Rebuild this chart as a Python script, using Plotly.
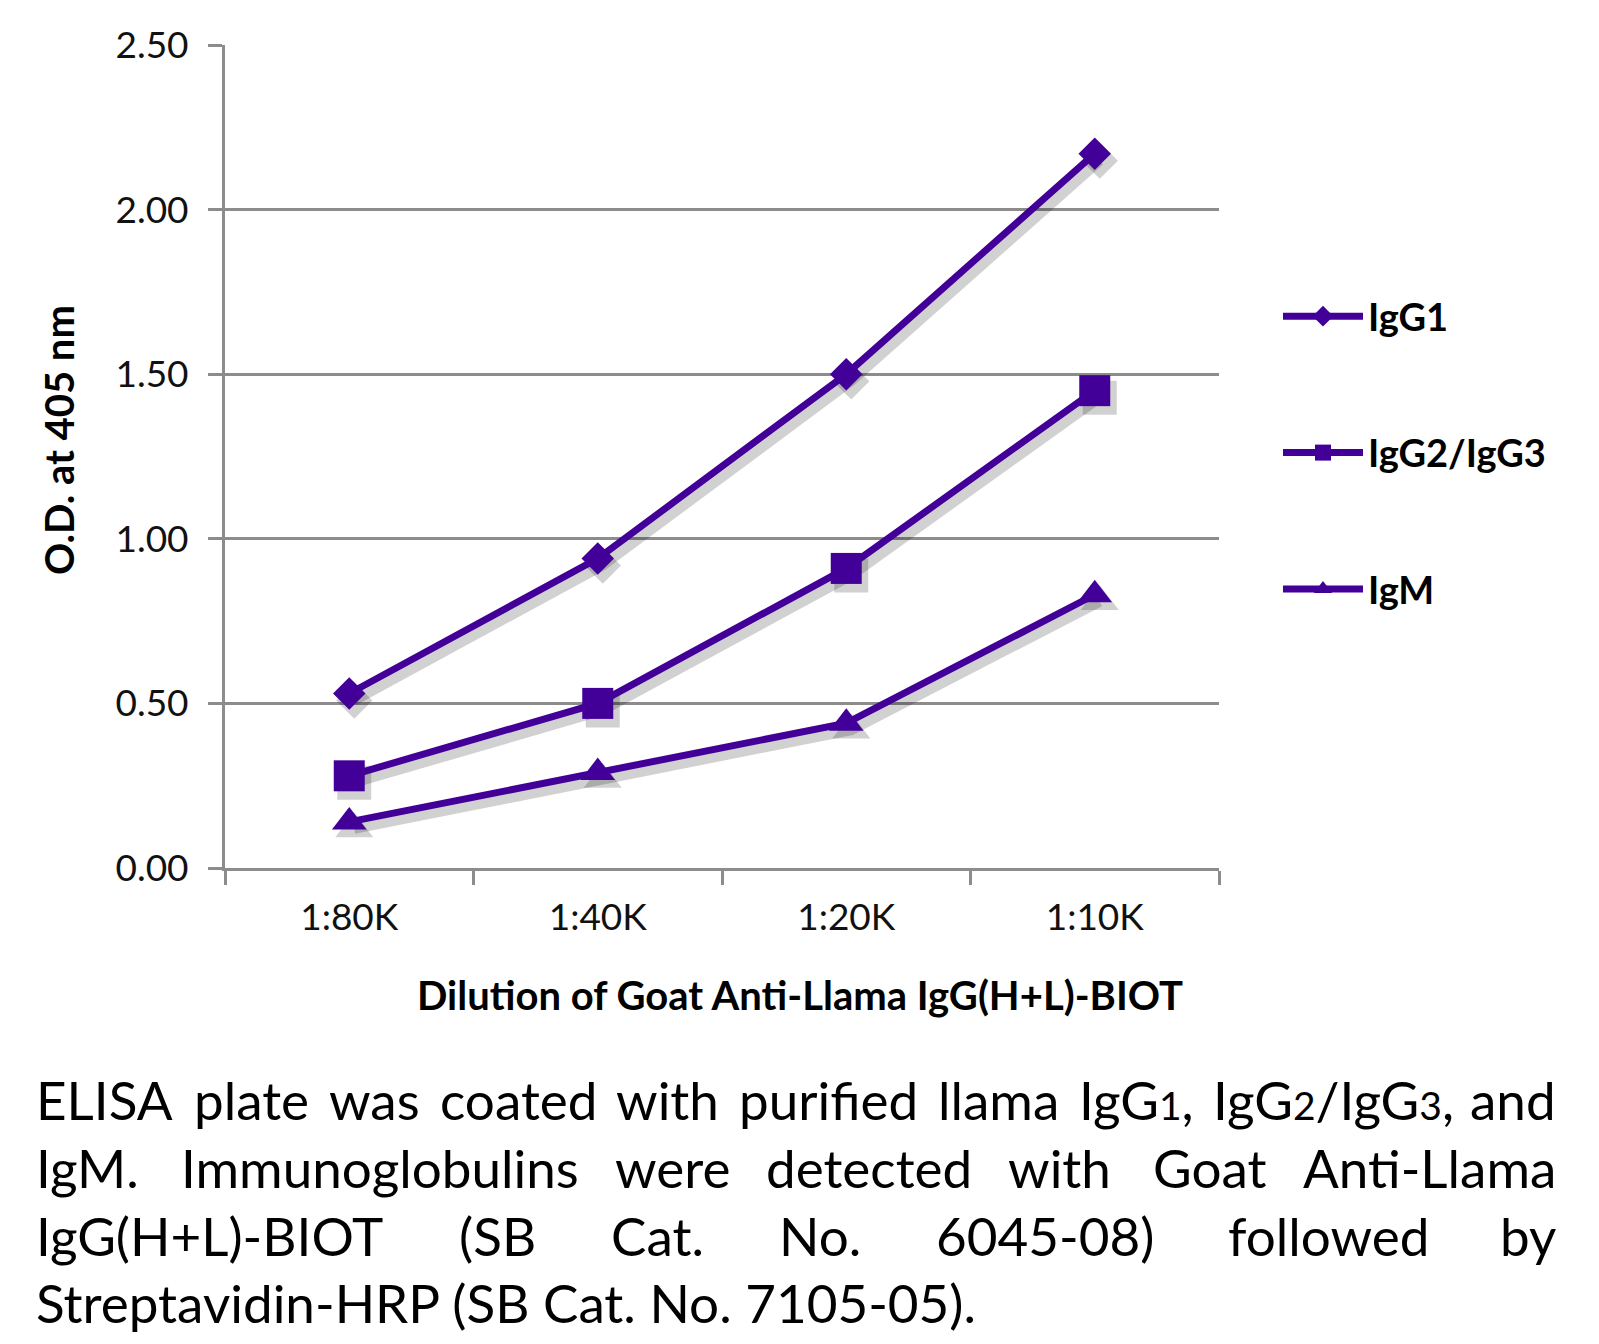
import plotly.graph_objects as go

# ---------------- data ----------------
categories = ["1:80K", "1:40K", "1:20K", "1:10K"]
igg1 = [0.53, 0.94, 1.50, 2.17]
igg23 = [0.28, 0.50, 0.91, 1.45]
igm = [0.14, 0.29, 0.44, 0.83]
series_names = ["IgG1", "IgG2/IgG3", "IgM"]
y_ticks = [0.0, 0.5, 1.0, 1.5, 2.0, 2.5]

# ---------------- geometry (page pixels) ----------------
PAGE_W, PAGE_H = 1599, 1344
OFF = 8                      # default body margin of the html page
W, H = PAGE_W - 2 * OFF, PAGE_H - 2 * OFF
PL, PR, PT, PB = 225, 1219, 45, 868   # plot area in page pixels
PURPLE = "#430098"
GRID = "#8c8c8c"
FONT = "Lato"


def fx(px):
    return (px - PL) / (PR - PL)


def fy(py):
    return (PB - py) / (PB - PT)


symbols = ["diamond", "square", "triangle-up"]
sizes = [25, 31, 30]
series = [igg1, igg23, igm]

fig = go.Figure()

# base subplot anchor (keeps the visible axes drawn)
fig.add_trace(go.Scatter(x=categories, y=[None] * len(categories),
                         mode="lines", showlegend=False, hoverinfo="skip"))

# soft shadows on a slightly shifted hidden axis pair
shift_x = 5 / ((PR - PL) / 4)
shift_y = 7 / ((PB - PT) / 2.5)
idx = list(range(len(categories)))
for vals, sym, sz in zip(series, symbols, sizes):
    fig.add_trace(go.Scatter(
        x=idx, y=vals, mode="lines+markers", xaxis="x2", yaxis="y2",
        line=dict(color="rgba(0,0,0,0.18)", width=10),
        marker=dict(symbol=sym, size=sz + 3, color="rgba(0,0,0,0.18)"),
        showlegend=False, hoverinfo="skip"))

for name, vals, sym, sz in zip(series_names, series, symbols, sizes):
    fig.add_trace(go.Scatter(
        x=categories, y=vals, name=name, mode="lines+markers",
        xaxis="x3", yaxis="y3", legendgroup=name,
        line=dict(color=PURPLE, width=7),
        marker=dict(symbol=sym, size=sz, color=PURPLE)))

axis_font = dict(family=FONT, size=37, color="#111")
fig.update_layout(
    width=W, height=H,
    margin=dict(l=PL - OFF, r=W - (PR - OFF), t=PT - OFF, b=H - (PB - OFF),
                pad=0, autoexpand=False),
    paper_bgcolor="white", plot_bgcolor="white",
    xaxis=dict(type="category", categoryorder="array", categoryarray=categories,
               range=[-0.5, 3.5], tickson="boundaries", ticks="outside",
               ticklen=14, tickwidth=3, tickcolor=GRID, showline=True,
               linecolor=GRID, linewidth=3, showgrid=False, zeroline=False,
               tickfont=axis_font, ticklabelstandoff=15),
    yaxis=dict(range=[0, 2.5], tickvals=y_ticks, tickformat=".2f",
               ticks="outside", ticklen=14, tickwidth=3, tickcolor=GRID,
               showline=True, linecolor=GRID, linewidth=3,
               showgrid=True, gridcolor=GRID, gridwidth=2.5, zeroline=False,
               tickfont=axis_font, ticklabelstandoff=12),
    xaxis2=dict(overlaying="x", range=[-0.5 - shift_x, 3.5 - shift_x],
                visible=False),
    yaxis2=dict(overlaying="y", range=[0 + shift_y, 2.5 + shift_y],
                visible=False),
    xaxis3=dict(overlaying="x", type="category", categoryorder="array",
                categoryarray=categories, range=[-0.5, 3.5], visible=False),
    yaxis3=dict(overlaying="y", range=[0, 2.5], visible=False),
    legend=dict(x=fx(1278), y=fy(285), xanchor="left", yanchor="top",
                font=dict(family=FONT, size=38, color="black", weight="bold"),
                tracegroupgap=84, itemwidth=80, bgcolor="rgba(0,0,0,0)"),
    showlegend=True,
)

annotations = []
# axis titles
annotations.append(dict(text="<b>Dilution of Goat Anti-Llama IgG(H+L)-BIOT</b>",
                        x=fx(800), y=fy(995), xref="paper", yref="paper",
                        showarrow=False, xanchor="center", yanchor="middle",
                        font=dict(family=FONT, size=40, color="black")))
annotations.append(dict(text="<b>O.D. at 405 nm</b>", textangle=-90,
                        x=fx(59), y=fy(440), xref="paper", yref="paper",
                        showarrow=False, xanchor="center", yanchor="middle",
                        font=dict(family=FONT, size=40, color="black")))

# caption (justified paragraph), word positions in page pixels
cap_font = dict(family=FONT, size=53, color="black")
LEFT, RIGHT = 34, 1558
small = '<span style="font-size:39px">%s</span>'
lines_y = [1099, 1167, 1235, 1302]
line1 = [("ELISA", LEFT, "left"), ("plate", 251, "center"),
         ("was", 374, "center"), ("coated", 518, "center"),
         ("with", 667, "center"), ("purified", 828, "center"),
         ("llama", 998, "center"), ("IgG" + small % "1" + ",", 1136, "center"),
         ("IgG" + small % "2" + "/IgG" + small % "3" + ",", 1333, "center"),
         ("and", RIGHT, "right")]
line2 = [("IgM.", LEFT, "left"), ("Immunoglobulins", 380, "center"),
         ("were", 672, "center"), ("detected", 869, "center"),
         ("with", 1059, "center"), ("Goat", 1209, "center"),
         ("Anti-Llama", RIGHT, "right")]
line3 = [("IgG(H+L)-BIOT", LEFT, "left"), ("(SB", 497, "center"),
         ("Cat.", 657, "center"), ("No.", 820, "center"),
         ("6045-08)", 1045, "center"), ("followed", 1328, "center"),
         ("by", RIGHT, "right")]
line4 = [("Streptavidin-HRP (SB Cat. No. 7105-05).", LEFT, "left")]
for words, yy in zip((line1, line2, line3, line4), lines_y):
    for t, xx, anc in words:
        annotations.append(dict(text=t, x=fx(xx), y=fy(yy), xref="paper",
                                yref="paper", showarrow=False, xanchor=anc,
                                yanchor="middle", font=cap_font))
fig.update_layout(annotations=annotations)

fig.write_html("out.html")
